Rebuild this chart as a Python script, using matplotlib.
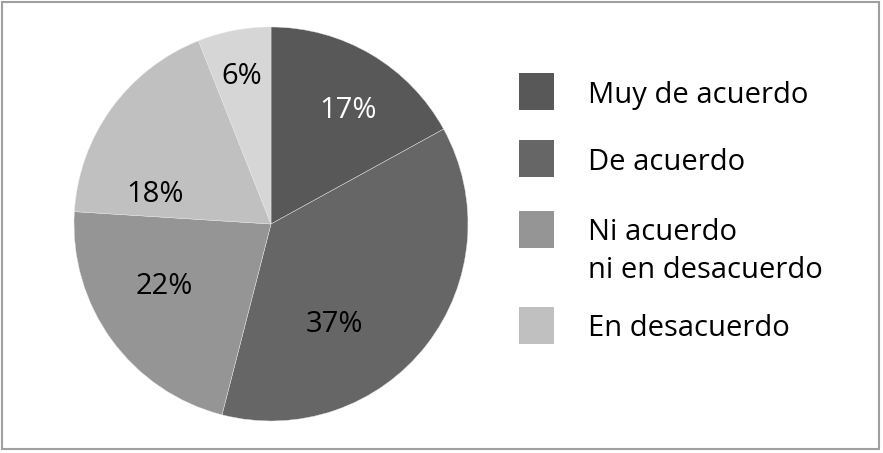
import matplotlib
matplotlib.use("Agg")
import matplotlib.pyplot as plt
from matplotlib.patches import Rectangle
import numpy as np

plt.rcParams['font.family'] = ['Open Sans', 'DejaVu Sans']

# data
values = [17, 37, 22, 18, 6]
pct_labels = ['17%', '37%', '22%', '18%', '6%']
colors = ['#585858', '#666666', '#959595', '#c0c0c0', '#d6d6d6']
text_colors = ['white', 'black', 'black', 'black', 'black']
legend_labels = ['Muy de acuerdo', 'De acuerdo', 'Ni acuerdo\nni en desacuerdo', 'En desacuerdo']

# label placement (angle offset in degrees from wedge middle, radius fraction)
label_shift = [(-3, 0.71), (-19, 0.59), (-7, 0.62), (20, 0.61), (0, 0.78)]

W, H = 883, 453
fig = plt.figure(figsize=(W / 100, H / 100), dpi=100)

cx, cy, r = 271, 224, 197
text_drop = 3.5  # px, text sits a bit lower than matplotlib's centre
ax = fig.add_axes([(cx - r) / W, (H - cy - r) / H, 2 * r / W, 2 * r / H])
wedges, _ = ax.pie(values, colors=colors, startangle=90, counterclock=False,
                   radius=1, wedgeprops=dict(edgecolor='#e8e8e8', linewidth=0.3))
ax.set_xlim(-1, 1)
ax.set_ylim(-1, 1)
ax.axis('off')

for w, lab, tc, (da, rf) in zip(wedges, pct_labels, text_colors, label_shift):
    ang = np.deg2rad((w.theta1 + w.theta2) / 2 + da)
    ax.text(rf * np.cos(ang), rf * np.sin(ang) - text_drop / r, lab,
            ha='center', va='center', fontsize=21, color=tc)

# legend drawn by hand
sq_x, sq_w, sq_h = 519, 35, 37
sq_tops = [73, 140, 211, 307]
text_x = 588
line_gap = 38
for lab, col, top in zip(legend_labels, colors[:4], sq_tops):
    fig.patches.append(Rectangle((sq_x / W, (H - top - sq_h) / H), sq_w / W, sq_h / H,
                                 transform=fig.transFigure, facecolor=col,
                                 edgecolor='none'))
    yc = top + sq_h / 2 + text_drop
    for i, line in enumerate(lab.split('\n')):
        fig.text(text_x / W, (H - yc - i * line_gap) / H, line, ha='left',
                 va='center', fontsize=21, color='black')

# outer frame
fig.patches.append(Rectangle((1.5 / W, (H - 449) / H), 877.5 / W, 447.5 / H,
                             transform=fig.transFigure, facecolor='none',
                             edgecolor='#a0a0a0', linewidth=1.5))

fig.savefig('out.png', dpi=100, facecolor='white')
